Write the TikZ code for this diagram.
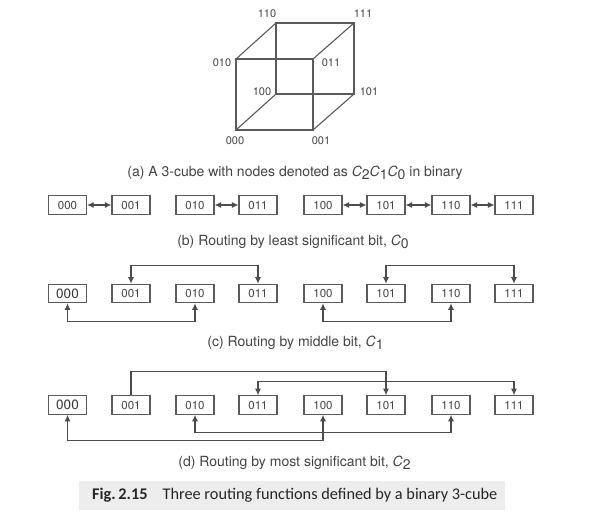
\documentclass[tikz,border=0pt]{standalone}
\usepackage{fontspec}
\setmainfont{TeX Gyre Heros}
\newfontfamily\figfont{Carlito}
\usetikzlibrary{arrows.meta}
\definecolor{ink}{HTML}{444444}
\definecolor{linec}{HTML}{5A5A5A}
\definecolor{band}{HTML}{EDEDED}
\newcommand{\Csb}[1]{\textit{C}\raisebox{-0.4ex}{#1}}
\tikzset{
  bitbox/.style={draw=linec,line width=1.1pt,minimum width=38pt,minimum height=18.5pt,inner sep=0pt,text=ink,text height=8.3pt,text depth=0pt,font=\fontsize{11.5}{13}\selectfont},
  darkbox/.style={bitbox,text=black!80,text height=9.7pt,font=\fontsize{13.5}{15}\selectfont},
  vlabel/.style={text=ink,inner sep=0pt,text height=8pt,text depth=0pt,font=\fontsize{11}{13}\selectfont},
  edge/.style={draw=linec,line width=1.1pt},
  route/.style={edge,{Latex[length=6.5pt,width=6pt]}-{Latex[length=6.5pt,width=6pt]},draw=black!70},
  routeend/.style={edge,-{Latex[length=6.5pt,width=6pt]},draw=black!70},
  captext/.style={text=ink,inner sep=0pt,font=\fontsize{14}{16}\selectfont},
}
\begin{document}
\begin{tikzpicture}[x=1pt,y=-1pt]
\useasboundingbox[fill=white] (0,0) rectangle (598,522);
% cube
\coordinate (v010) at (236,59);
\coordinate (v011) at (313,59);
\coordinate (v110) at (276,23);
\coordinate (v111) at (354,23);
\coordinate (v000) at (236,130);
\coordinate (v001) at (313,130);
\coordinate (v100) at (276,94);
\coordinate (v101) at (354,94);
\draw[edge] (v010) -- (v011) -- (v001) -- (v000) -- cycle;
\draw[edge] (v110) -- (v111) -- (v101) -- (v100) -- cycle;
\draw[edge] (v000) -- (v100) (v001) -- (v101) (v010) -- (v110) (v011) -- (v111);
\node[vlabel] (l110) at (267,13) {110};
\node[vlabel] (l111) at (363,13) {111};
\node[vlabel] (l010) at (222,62) {010};
\node[vlabel] (l011) at (331,62) {011};
\node[vlabel] (l100) at (262,91) {100};
\node[vlabel] (l101) at (369,91) {101};
\node[vlabel] (l000) at (235,140) {000};
\node[vlabel] (l001) at (321,140) {001};
\node[captext] (capa) at (295,173) {(a) A 3-cube with nodes denoted as \Csb{2}\Csb{1}\Csb{0} in binary};
% boxes
\foreach \n/\x in {000/67.5,001/131,010/195,011/258,100/323,101/386,110/451,111/514}{
  \node[bitbox] (b\n) at (\x,205) {\n};
}
\foreach \n/\x in {001/131,010/195,011/258,100/323,101/386,110/451,111/514}{
  \node[bitbox] (c\n) at (\x,293.5) {\n};
  \node[bitbox] (d\n) at (\x,405) {\n};
}
\node[darkbox] (c000) at (67.5,293.5) {000};
\node[darkbox] (d000) at (67.5,405) {000};
\draw[route] (b000) -- (b001);
\draw[route] (b010) -- (b011);
\draw[route] (b100) -- (b101);
\draw[route] (b101) -- (b110);
\draw[route] (b110) -- (b111);
\node[captext] (capb) at (293,242) {(b) Routing by least significant bit, \Csb{0}};
% row c
\draw[route] (c001.north) -- ++(0,-18) -| (c011.north);
\draw[route] (c101.north) -- ++(0,-18) -| (c111.north);
\draw[route] (c000.south) -- ++(0,18) -| (c010.south);
\draw[route] (c100.south) -- ++(0,18) -| (c110.south);
\node[captext] (capc) at (295.5,343) {(c) Routing by middle bit, \Csb{1}};
% row d
\draw[routeend] (d001.north) -- ++(0,-24) -| (d101.north);
\draw[route] (d011.north) -- ++(0,-14) -| (d111.north);
\draw[route] (d000.south) -- ++(0,26) -| (d100.south);
\draw[route] (d010.south) -- ++(0,18) -| (d110.south);
\node[captext] (capd) at (294.5,463) {(d) Routing by most significant bit, \Csb{2}};
% figure caption
\fill[band] (79,481) rectangle (505,510);
\node[text=black!85,inner sep=0pt,anchor=west,font=\figfont\fontsize{16.3}{18}\selectfont] (fig) at (92,495) {\textbf{Fig.\,2.15}\hspace{15pt}Three routing functions defined by a binary 3-cube};
\end{tikzpicture}
\end{document}
